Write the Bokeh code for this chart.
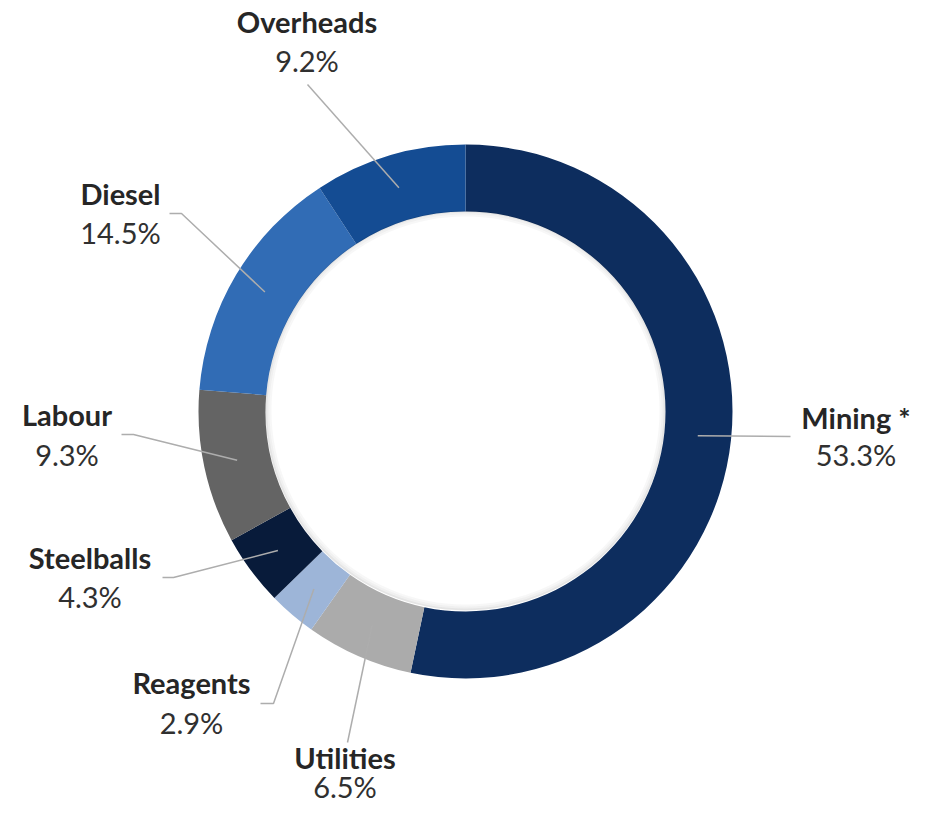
import math
from bokeh.plotting import figure
from bokeh.models import Range1d, ColumnDataSource
from bokeh.core.properties import value
from bokeh.embed import file_html
from bokeh.resources import INLINE

# ---- data ----
categories = ["Mining *", "Utilities", "Reagents", "Steelballs", "Labour", "Diesel", "Overheads"]
shares = [53.3, 6.5, 2.9, 4.3, 9.3, 14.5, 9.2]
pct_labels = ["53.3%", "6.5%", "2.9%", "4.3%", "9.3%", "14.5%", "9.2%"]

# ---- styles ----
colors = ["#0D2D5E", "#ABABAB", "#9DB5D8", "#081B3A", "#646464", "#316CB5", "#144C93"]

H = 822  # reference page height (for y flip)
W_FIG, H_FIG = 925, 806
cx, cy = 465.0, H - 411.0
r_in, r_out = 200.0, 267.0
r_anchor = (r_in + r_out) / 2
TEXT_SHIFT = 11  # compensate renderer baseline offset

# label centres (x) and baselines (page y) for name / percent
label_x = [855.5, 344.5, 191.0, 89.5, 66.5, 120.0, 306.5]
name_base = [428, 768, 693, 568, 425, 204, 32]
pct_base = [465, 797, 733, 607, 465, 243, 71]
# leader start (page coords) and elbow
lead_start = [(790, 436), (347, 742), (260, 703), (162, 577), (121, 434), (169, 213), (307, 84)]
lead_elbow = [None, None, (273, 703), (173, 577), (133, 434), (181, 213), None]

p = figure(width=W_FIG, height=H_FIG, output_backend="svg", toolbar_location=None,
           x_range=Range1d(0, W_FIG), y_range=Range1d(H - H_FIG, H),
           min_border=0, outline_line_color=None, background_fill_color="white",
           border_fill_color="white")
p.axis.visible = False
p.grid.visible = False

total = sum(shares)
starts, ends, mids = [], [], []
cum = 0.0
for s in shares:
    a0 = math.radians(90 - cum / total * 360)
    cum += s
    a1 = math.radians(90 - cum / total * 360)
    starts.append(a0)
    ends.append(a1)
    mids.append((a0 + a1) / 2)

src = ColumnDataSource(dict(start=starts, end=ends, color=colors, cat=categories))
p.annular_wedge(x=cx, y=cy, inner_radius=r_in, outer_radius=r_out,
                start_angle="start", end_angle="end", direction="clock",
                fill_color="color", line_color=None, source=src)

# subtle inner shadow
for k, a in enumerate([0.10, 0.06, 0.03]):
    p.annulus(x=cx, y=cy + 1, inner_radius=r_in - 2 - 2 * k, outer_radius=r_in - 2 * k,
              fill_color="#000000", fill_alpha=a, line_color=None)

# leader lines
for i in range(len(categories)):
    ax = cx + r_anchor * math.cos(mids[i])
    ay = cy + r_anchor * math.sin(mids[i])
    xs = [lead_start[i][0]]
    ys = [H - lead_start[i][1]]
    if lead_elbow[i] is not None:
        xs.append(lead_elbow[i][0])
        ys.append(H - lead_elbow[i][1])
    xs.append(ax)
    ys.append(ay)
    p.line(xs, ys, line_color="#ADADAD", line_width=1.5)

# labels
p.text(x=label_x, y=[H - v + TEXT_SHIFT for v in name_base], text=categories,
       text_font=value("Lato"), text_font_size="29px", text_font_style="bold",
       text_color="#262626", text_align="center", text_baseline="alphabetic")
p.text(x=label_x, y=[H - v + TEXT_SHIFT for v in pct_base], text=pct_labels,
       text_font=value("Lato"), text_font_size="29px",
       text_color="#303030", text_align="center", text_baseline="alphabetic")

open("out.html", "w").write(file_html(p, INLINE))
